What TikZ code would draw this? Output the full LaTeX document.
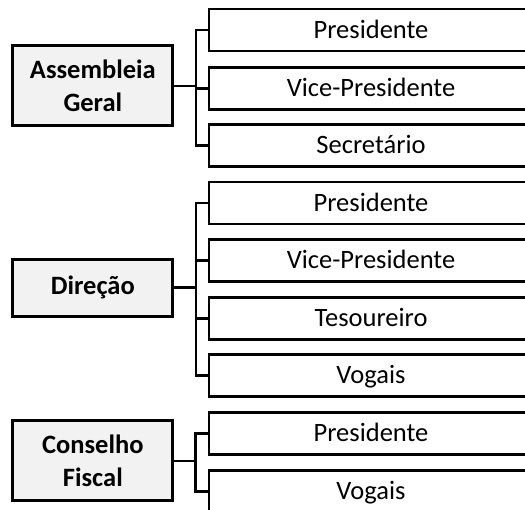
\documentclass[tikz,border=0pt]{standalone}
\usepackage{fontspec}
\setmainfont{Carlito}
\begin{document}
\begin{tikzpicture}[x=1pt,y=-1pt,
  parentbox/.style={draw=black, line width=3pt, fill=black!5, minimum width=160pt, inner sep=0pt,
    align=center, font=\fontsize{26.5}{33}\selectfont\bfseries},
  childbox/.style={draw=none, minimum width=324pt, minimum height=41.5pt,
    inner sep=0pt, text depth=0pt, yshift=-1pt, font=\fontsize{26.5}{30}\selectfont},
  childedge/.style={draw=black, line width=2.5pt, line join=miter},
  conn/.style={draw=black, line width=2.5pt, line cap=rect}]
\useasboundingbox (0,0) rectangle (525,509);
\clip (0,0) rectangle (525,509);
% parents
\node[parentbox, minimum height=80pt] (a) at (92.85,85.85) {Assembleia\\Geral};
\node[parentbox, minimum height=57pt] (d) at (92.85,287.5) {Direção};
\node[parentbox, minimum height=80pt] (c) at (92.85,460.85) {Conselho\\Fiscal};
% children
\node[childbox] (a1) at (371,28) {Presidente};
\node[childbox] (a2) at (371,86.5) {Vice-Presidente};
\node[childbox] (a3) at (371,143.5) {Secretário};
\node[childbox] (d1) at (371,201) {Presidente};
\node[childbox] (d2) at (371,258.5) {Vice-Presidente};
\node[childbox] (d3) at (371,316.5) {Tesoureiro};
\node[childbox] (d4) at (371,373.5) {Vogais};
\node[childbox] (c1) at (371,431.5) {Presidente};
\node[childbox] (c2) at (371,489.5) {Vogais};
\foreach \n in {a1,a2,a3,d1,d2,d3,d4,c1,c2}{
  \draw[childedge] ([yshift=-1pt]\n.north east) -- ([yshift=-1pt]\n.north west) -- ([yshift=-1pt]\n.south west) -- ([yshift=-1pt]\n.south east);
}
% bracket points
\coordinate (ab) at (196,85.85);
\coordinate (db) at (196,287.5);
\coordinate (cb) at (195.5,460.85);
% connectors
\draw[conn] (a.east) -- (ab);
\draw[conn] (ab) |- ([yshift=-1pt]a1.west);
\draw[conn] (ab) |- ([yshift=-1pt]a2.west);
\draw[conn] (ab) |- ([yshift=-1pt]a3.west);
\draw[conn] (d.east) -- (db);
\draw[conn] (db) |- ([yshift=-1pt]d1.west);
\draw[conn] (db) |- ([yshift=-1pt]d2.west);
\draw[conn] (db) |- ([yshift=-1pt]d3.west);
\draw[conn] (db) |- ([yshift=-1pt]d4.west);
\draw[conn] (c.east) -- (cb);
\draw[conn] (cb) |- ([yshift=-1pt]c1.west);
\draw[conn] (cb) |- ([yshift=-1pt]c2.west);
\end{tikzpicture}
\end{document}
